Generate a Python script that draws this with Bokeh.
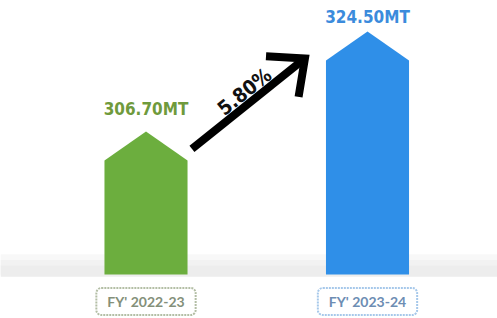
import math
from bokeh.plotting import figure
from bokeh.models import Range1d, Label
from bokeh.embed import file_html
from bokeh.resources import INLINE

# ---- data ----
categories = ["FY' 2022-23", "FY' 2023-24"]
volumes = [306.70, 324.50]
value_labels = ["306.70MT", "324.50MT"]
growth_label = "5.80%"
bar_colors = ["#6cae3e", "#2f8fe8"]
text_colors = ["#6f9a3c", "#3b8bdc"]
box_text_colors = ["#84907a", "#6d8db3"]
box_border_colors = ["#b3bea5", "#a6c8ea"]

# ---- scales ----
baseline = 281.25
PX_X = 221.5      # px per x unit
PX_Y = 5.618      # px per y unit
W, H = 497, 318
X0 = -145.5 / PX_X
Y_TOP = baseline + 274 / PX_Y

p = figure(width=W, height=H, output_backend="svg", toolbar_location=None,
           x_range=Range1d(X0, X0 + W / PX_X),
           y_range=Range1d(Y_TOP - H / PX_Y, Y_TOP),
           min_border=0, outline_line_color=None,
           background_fill_color="white", border_fill_color="white")
p.axis.visible = False
p.grid.visible = False

# floor shadow band
shade_steps = [(-0.6, 3.6, "#f8f8f8"), (-0.4, 2.6, "#f2f2f2"), (-0.2, 1.6, "#ededed")]
for lo, hi, c in shade_steps:
    p.quad(left=X0, right=X0 + W / PX_X, bottom=baseline - lo - 0.6, top=baseline + hi,
           fill_color=c, line_color=None)

# pentagon bars
bw = 0.375
head = 29 / PX_Y
xs, ys = [], []
for i, v in enumerate(volumes):
    xs.append([i - bw / 2, i - bw / 2, i, i + bw / 2, i + bw / 2])
    ys.append([baseline, v - head, v, v - head, baseline])
p.patches(xs=xs, ys=ys, fill_color=bar_colors, line_color=None)

NUM_FONT = "DejaVu Sans Condensed, Roboto Condensed, Liberation Sans Narrow, Roboto"

# value labels
offsets = [23, 15]
for i, v in enumerate(volumes):
    p.add_layout(Label(x=i, y=v, y_offset=offsets[i], text=value_labels[i],
                       text_align="center", text_baseline="middle",
                       text_font=NUM_FONT, text_font_style="bold",
                       text_font_size="17px", text_color=text_colors[i]))

# growth arrow
x0, y0 = 0 + bw / 2 + 0.02, volumes[0] - 3.07
x1, y1 = 1 - bw / 2 - 0.095, volumes[1] - 4.8
p.line([x0, x1], [y0, y1], line_color="black", line_width=8, line_cap="butt")
ang = math.atan2((y1 - y0) * PX_Y, (x1 - x0) * PX_X)
back = ang + math.pi
arm = 39
spread = math.radians(42)
ax = [x1 + arm * math.cos(back - spread) / PX_X, x1, x1 + arm * math.cos(back + spread) / PX_X]
ay = [y1 + arm * math.sin(back - spread) / PX_Y, y1, y1 + arm * math.sin(back + spread) / PX_Y]
p.line(ax, ay, line_color="black", line_width=8, line_join="miter", line_cap="butt")

p.add_layout(Label(x=(x0 + x1) / 2, y=(y0 + y1) / 2, text=growth_label,
                   x_offset=-4, y_offset=12, angle=ang,
                   text_align="center", text_baseline="middle",
                   text_font=NUM_FONT, text_font_style="bold",
                   text_font_size="20px", text_color="#111111"))

# category boxes
for i, c in enumerate(categories):
    p.add_layout(Label(x=i, y=baseline, y_offset=-27, text=c,
                       text_align="center", text_baseline="middle",
                       text_font="Lato", text_font_style="bold",
                       text_font_size="14px", text_color=box_text_colors[i],
                       background_fill_color="white",
                       border_line_color=box_border_colors[i], border_line_width=2,
                       border_line_dash="2 1", border_radius=5, padding=(11, 5)))

open("out.html", "w").write(file_html(p, INLINE))
